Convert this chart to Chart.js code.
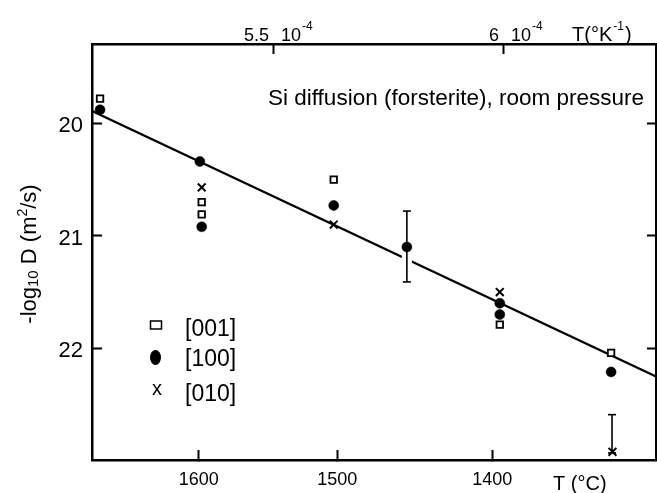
<!DOCTYPE html>
<html><head><meta charset="utf-8">
<script src="https://cdn.jsdelivr.net/npm/chart.js@4.4.1/dist/chart.umd.min.js"></script>
<style>html,body{margin:0;padding:0;background:#fff;overflow:hidden}#wrap{position:relative;width:657px;height:493px}canvas{display:block}</style>
</head><body>
<div id="wrap"><canvas id="c"></canvas></div>
<script>
// ---- data (x: 1/T in units of 1e-4 K^-1, y: -log10 D in m^2/s) ----
const seriesLabels = ['[001]', '[100]', '[010]'];
const x001 = [5.124, 5.345, 5.345, 5.632, 5.993, 6.235];
const y001 = [19.78, 20.70, 20.81, 20.50, 21.79, 22.04];
const x100 = [5.124, 5.341, 5.345, 5.632, 5.791, 5.993, 5.993, 6.235];
const y100 = [19.88, 20.34, 20.92, 20.73, 21.10, 21.60, 21.70, 22.21];
const x010 = [5.345, 5.632, 5.993, 6.238];
const y010 = [20.57, 20.90, 21.50, 22.92];
const errX = [5.791, 6.237];
const errLow = [20.78, 22.59];
const errHigh = [21.41, 22.93];
const fitX = [5.1065, 6.3326];
const fitY = [19.89, 22.25];
const yTicks = [20, 21, 22];
const topTicks = [5.5, 6];
const topTickLabels = ['5.5', '6'];
const bottomTicksC = [1600, 1500, 1400];
const titleText = 'Si diffusion (forsterite), room pressure';

// ---- fonts ----
function fontAvailable(name){
  const c = document.createElement('canvas').getContext('2d');
  const s = 'abcdefghij 0123456789 TK';
  c.font = '20px monospace'; const w1 = c.measureText(s).width;
  c.font = '20px "' + name + '", monospace'; const w2 = c.measureText(s).width;
  return Math.abs(w1 - w2) > 0.5;
}
const hasNarrow = fontAvailable('Liberation Sans Narrow');
const COND = hasNarrow ? '"Liberation Sans Narrow"' : '"Liberation Sans"';
const CS = hasNarrow ? 21 : 18;
const SANS = '"Liberation Sans", Arial, sans-serif';

const X_MIN = 5.1065, X_MAX = 6.3326, Y_MIN = 19.295, Y_MAX = 22.993;

const pts = (xs, ys) => xs.map((x, i) => ({x: x, y: ys[i]}));
const errData = [];
errX.forEach((x, i) => { errData.push({x: x, y: errLow[i]}, {x: x, y: errHigh[i]}, {x: x, y: null}); });

const gridInward = (len) => ({drawOnChartArea: false, drawTicks: true, tickLength: -len, tickWidth: 2, tickColor: '#000'});
const border = {display: true, color: '#000', width: 2.5};
const noPad = s => { s.paddingLeft = 0; s.paddingRight = 0; s.paddingTop = 0; s.paddingBottom = 0; };

const textPlugin = {
  id: 'texts',
  afterDraw(chart) {
    const ctx = chart.ctx, x2 = chart.scales.x2;
    ctx.save();
    ctx.fillStyle = '#000'; ctx.strokeStyle = '#000';
    ctx.textBaseline = 'alphabetic';
    const SUP = Math.round(CS * 0.68) + 'px ' + COND;
    // top tick labels
    topTicks.forEach((v, i) => {
      const px = x2.getPixelForValue(v);
      ctx.font = CS + 'px ' + COND;
      ctx.textAlign = 'right'; ctx.fillText(topTickLabels[i], px - 4, 41);
      ctx.textAlign = 'left'; ctx.fillText('10', px + 8, 41);
      const w = ctx.measureText('10').width;
      ctx.font = SUP;
      ctx.fillText('-4', px + 8 + w + 1, 30);
    });
    // top axis unit
    ctx.textAlign = 'left';
    ctx.font = (CS + 2) + 'px ' + COND;
    let x = 572; ctx.fillText('T(°K', x, 41); x += ctx.measureText('T(°K').width;
    ctx.font = SUP; ctx.fillText('-1', x + 1, 30); x += ctx.measureText('-1').width + 2;
    ctx.font = (CS + 2) + 'px ' + COND; ctx.fillText(')', x, 41);
    // bottom axis unit
    ctx.font = (CS + 2) + 'px ' + COND;
    ctx.fillText('T (°C)', 553, 490);
    // title
    ctx.font = '22.5px ' + SANS;
    ctx.fillText(titleText, 268, 105);
    // y axis title (rotated)
    const parts = [
      {t: '-log', f: '22px ' + SANS, dy: 0},
      {t: '10', f: '15px ' + SANS, dy: 2},
      {t: ' D (m', f: '22px ' + SANS, dy: 0},
      {t: '2', f: '14px ' + SANS, dy: -9},
      {t: '/s)', f: '22px ' + SANS, dy: 0}
    ];
    let total = 0;
    parts.forEach(p => { ctx.font = p.f; p.w = ctx.measureText(p.t).width; total += p.w; });
    ctx.translate(36, 254); ctx.rotate(-Math.PI / 2);
    let cx = -total / 2;
    parts.forEach(p => { ctx.font = p.f; ctx.fillText(p.t, cx, p.dy); cx += p.w; });
    ctx.setTransform(1, 0, 0, 1, 0, 0);
    // legend
    ctx.lineWidth = 1.5;
    ctx.strokeRect(150.5, 321, 11, 8);
    ctx.beginPath(); ctx.ellipse(155.5, 357.5, 5.5, 7.5, 0, 0, Math.PI * 2); ctx.fill();
    ctx.font = '20px ' + SANS; ctx.textAlign = 'center';
    ctx.fillText('x', 157, 395);
    ctx.textAlign = 'left'; ctx.font = '23px ' + SANS;
    const legY = [336, 366, 401];
    seriesLabels.forEach((l, i) => ctx.fillText(l, 185, legY[i]));
    ctx.restore();
  }
};

new Chart(document.getElementById('c'), {
  type: 'scatter',
  data: {
    datasets: [
      {label: 'fit', data: pts(fitX, fitY), showLine: true, borderColor: '#000', borderWidth: 2.3, pointRadius: 0, order: 10},
      {label: 'errhalo', data: errData, showLine: true, borderColor: '#fff', borderWidth: 10, pointRadius: 0, spanGaps: false, order: 6},
      {label: 'err', data: errData, showLine: true, borderColor: '#000', borderWidth: 1.6, pointStyle: 'line', pointRadius: 4, pointBorderWidth: 1.6, spanGaps: false, order: 5},
      {label: seriesLabels[0], data: pts(x001, y001), pointStyle: 'rect', pointRadius: 4.6, backgroundColor: '#fff', borderColor: '#000', borderWidth: 1.8, order: 1},
      {label: seriesLabels[1], data: pts(x100, y100), pointStyle: 'circle', pointRadius: 5, backgroundColor: '#000', borderColor: '#000', borderWidth: 0.5, order: 1},
      {label: seriesLabels[2], data: pts(x010, y010), pointStyle: 'crossRot', pointRadius: 5.5, borderColor: '#000', borderWidth: 2, order: 1}
    ]
  },
  options: {
    responsive: true, maintainAspectRatio: false, animation: false, events: [],
    devicePixelRatio: 1,
    layout: {padding: 0, autoPadding: false},
    plugins: {legend: {display: false}, tooltip: {enabled: false}},
    scales: {
      x: {
        type: 'linear', position: 'bottom', min: X_MIN, max: X_MAX,
        afterBuildTicks: s => { s.ticks = bottomTicksC.map(c => ({value: 1e4 / (c + 273.15)})); },
        afterFit: s => { s.height = 33; noPad(s); },
        grid: gridInward(10), border: border,
        ticks: {color: '#000', font: {family: COND, size: CS}, padding: 19, maxRotation: 0, autoSkip: false,
          callback: (v, i) => String(bottomTicksC[i])}
      },
      x2: {
        type: 'linear', position: 'top', min: X_MIN, max: X_MAX,
        afterBuildTicks: s => { s.ticks = topTicks.map(v => ({value: v})); },
        afterFit: s => { s.height = 44; noPad(s); },
        grid: gridInward(10), border: border,
        ticks: {display: false}
      },
      y: {
        type: 'linear', position: 'left', reverse: true, min: Y_MIN, max: Y_MAX,
        afterBuildTicks: s => { s.ticks = yTicks.map(v => ({value: v})); },
        afterFit: s => { s.width = 92; noPad(s); },
        grid: gridInward(10), border: border,
        ticks: {color: '#000', font: {family: SANS, size: 22}, padding: 19, labelOffset: 3, autoSkip: false,
          callback: v => String(v)}
      },
      y2: {
        type: 'linear', position: 'right', reverse: true, min: Y_MIN, max: Y_MAX,
        afterBuildTicks: s => { s.ticks = yTicks.map(v => ({value: v})); },
        afterFit: s => { s.width = 1; noPad(s); },
        grid: gridInward(9), border: border,
        ticks: {display: false}
      }
    }
  },
  plugins: [textPlugin]
});
</script>
</body></html>
